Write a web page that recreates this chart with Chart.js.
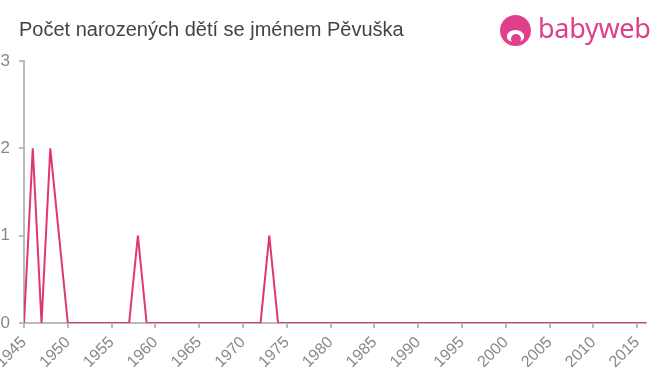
<!DOCTYPE html>
<html>
<head>
<meta charset="utf-8">
<script src="https://cdn.jsdelivr.net/npm/chart.js@4"></script>
<style>
  body { margin: 0; background: #fff; font-family: "Liberation Sans", Arial, sans-serif; }
  #wrap { position: relative; width: 660px; height: 375px; }
  #title { position: absolute; left: 19px; top: 18px; font-size: 20px; color: #444; }
  #logo { position: absolute; left: 500px; top: 15px; height: 32px; }
  #logo .dot { position: absolute; left: 0; top: 0; width: 31px; height: 31px; border-radius: 50%; background: #e0408a; }
  #logo .face { position: absolute; left: 7px; top: 15px; width: 17px; height: 12px; border-radius: 50% 50% 40% 40%; background: #fff; }
  #logo .mouth { position: absolute; left: 11px; top: 19px; width: 10px; height: 10px; border-radius: 50%; background: #e0408a; }
  #logo .txt { position: absolute; left: 38px; top: -6px; font-size: 27px; color: #e0408a; font-family: "Noto Sans", sans-serif; letter-spacing: -0.3px; }
  canvas { position: absolute; left: 0; top: 0; }
</style>
</head>
<body>
<div id="wrap">
  <canvas id="c" width="660" height="375"></canvas>
  <div id="title">Počet narozených dětí se jménem Pěvuška</div>
  <div id="logo"><div class="dot"></div><div class="face"></div><div class="mouth"></div><div class="txt">babyweb</div></div>
</div>
<script>
const years = [];
for (let y = 1945; y <= 2016; y++) years.push(y);
// births per year (0 where the line sits on the axis)
const births = [
  0, 2, 0, 2, 1, 0, 0, 0, 0, 0,   // 1945-1954
  0, 0, 0, 1, 0, 0, 0, 0, 0, 0,   // 1955-1964
  0, 0, 0, 0, 0, 0, 0, 0, 1, 0,   // 1965-1974
  0, 0, 0, 0, 0, 0, 0, 0, 0, 0,   // 1975-1984
  0, 0, 0, 0, 0, 0, 0, 0, 0, 0,   // 1985-1994
  0, 0, 0, 0, 0, 0, 0, 0, 0, 0,   // 1995-2004
  0, 0, 0, 0, 0, 0, 0, 0, 0, 0,   // 2005-2014
  0, 0                            // 2015-2016
];
const yTicks = [0, 1, 2, 3];

const ctx = document.getElementById('c').getContext('2d');
new Chart(ctx, {
  type: 'line',
  data: {
    datasets: [{
      data: years.map((y, i) => ({ x: y, y: births[i] })),
      borderColor: '#e0386c',
      borderWidth: 2,
      pointRadius: 0,
      tension: 0,
      fill: false
    }]
  },
  options: {
    responsive: false,
    animation: false,
    layout: { padding: { top: 61, right: 14, left: 0, bottom: 0 } },
    plugins: { legend: { display: false }, tooltip: { enabled: false } },
    scales: {
      x: {
        type: 'linear',
        min: 1945,
        max: 2016,
        afterBuildTicks: s => { s.ticks = []; for (let y = 1945; y <= 2015; y += 5) s.ticks.push({ value: y }); },
        afterFit: s => { s.height = 52; s.paddingLeft = 0; s.paddingRight = 0; },
        grid: { display: false },
        border: { color: '#bbb', width: 2 },
        ticks: {
          color: '#888',
          font: { size: 16, family: 'Liberation Sans' },
          maxRotation: 45,
          minRotation: 45,
          padding: 2,
          callback: v => String(v)
        }
      },
      y: {
        min: 0,
        max: 3,
        afterBuildTicks: s => { s.ticks = yTicks.map(v => ({ value: v })); },
        afterFit: s => { s.width = 24; s.paddingTop = 0; s.paddingBottom = 0; },
        grid: { display: false },
        border: { color: '#bbb', width: 2 },
        ticks: {
          color: '#888',
          font: { size: 17, family: 'Liberation Sans' },
          padding: 6
        }
      }
    }
  },
  plugins: [{
    id: 'tickmarks',
    afterDraw(chart) {
      const c = chart.ctx, xs = chart.scales.x, ys = chart.scales.y;
      c.save();
      c.strokeStyle = '#bbb';
      c.lineWidth = 2;
      xs.ticks.forEach(t => {
        const px = Math.round(xs.getPixelForValue(t.value));
        c.beginPath(); c.moveTo(px, ys.bottom); c.lineTo(px, ys.bottom + 5); c.stroke();
      });
      ys.ticks.forEach(t => {
        const py = Math.round(ys.getPixelForValue(t.value));
        c.beginPath(); c.moveTo(xs.left - 5, py); c.lineTo(xs.left, py); c.stroke();
      });
      c.restore();
    }
  }]
});
</script>
</body>
</html>
